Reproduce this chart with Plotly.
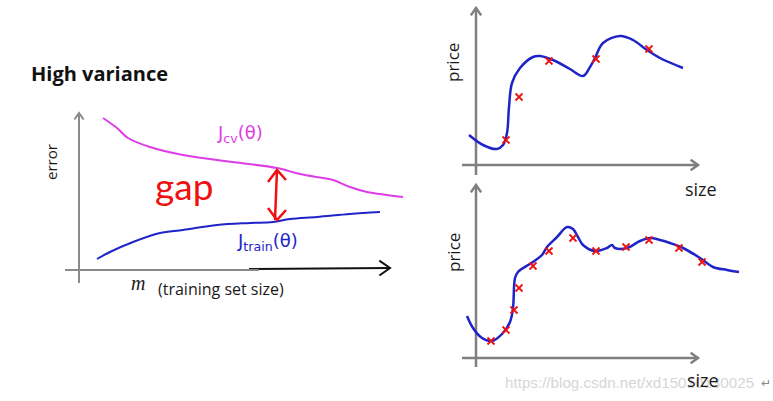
import math
import plotly.graph_objects as go

W, H = 773, 401

# ---------------- data ----------------
# Left: learning curve, high variance (m = training set size, error)
m_cv = [24, 38, 49, 71, 104, 154, 198, 221, 244, 254, 271, 288, 308, 324]
err_cv = [152, 142, 132, 123, 115, 108, 102, 96, 92, 90, 83, 78, 75, 73]
m_train = [18, 31, 54, 81, 104, 138, 171, 194, 211, 238, 271, 301]
err_train = [11, 18, 28, 37, 40, 45, 47, 48, 51, 53, 56, 58]
gap_m = 198
gap_err = [50, 100]

# Top right: overfit curve with few samples
size_top_curve = [-7, 7, 21, 27, 31, 33, 36, 44, 57, 64, 77, 94, 107, 114, 119, 127, 144, 157, 171, 184, 207]
price_top_curve = [30, 20, 16, 20, 32, 58, 82, 97, 108, 109, 105, 96, 89, 98, 107, 122, 129, 125, 115, 107, 97]
size_top_pts = [30, 43, 73, 120, 173]
price_top_pts = [25, 68, 104, 106, 116]

# Bottom right: overfit curve with more samples
size_bot_curve = [-9, -3, 6, 16, 26, 34, 37, 39, 42, 57, 66, 71, 81, 91, 97, 102, 107, 119, 131, 136, 139,
                  151, 164, 174, 184, 194, 207, 224, 237, 251, 263]
price_bot_curve = [42, 30, 20, 17, 24, 36, 50, 80, 86, 96, 103, 111, 121, 131, 129, 121, 113, 107, 110, 113, 110,
                   110, 117, 120, 118, 115, 110, 100, 91, 88, 86]
size_bot_pts = [15, 30, 38, 43, 57, 73, 97, 120, 150, 173, 203, 226]
price_bot_pts = [17, 28, 48, 70, 92, 107, 120, 107, 111, 118, 110, 96]

# ---------------- styles ----------------
MAGENTA = "#dd3ee6"
BLUE = "#1f24c8"
RED = "#ee1111"
GRAY = "#7f7f7f"
SANS = "Open Sans, Noto Sans, sans-serif"

fig = go.Figure()


def panel_axes(n, px0, px1, py0, py1, ox, oy):
    """Axis n spans the pixel box; 1 data unit = 1 px, origin at pixel (ox, oy)."""
    sx = "" if n == 1 else str(n)
    common = dict(visible=False, showgrid=False, zeroline=False, fixedrange=True)
    fig.update_layout(**{
        "xaxis" + sx: dict(domain=[px0 / W, px1 / W], range=[px0 - ox, px1 - ox],
                           anchor="y" + sx, **common),
        "yaxis" + sx: dict(domain=[1 - py1 / H, 1 - py0 / H], range=[oy - py1, oy - py0],
                           anchor="x" + sx, **common),
    })
    return "x" + sx, "y" + sx


def arrow_axis(xr, yr, x0, y0, x1, y1, color, width=2, head=8):
    fig.add_shape(type="line", xref=xr, yref=yr, x0=x0, y0=y0, x1=x1, y1=y1,
                  line=dict(color=color, width=width), layer="below")
    dx, dy = x1 - x0, y1 - y0
    L = math.hypot(dx, dy)
    ux, uy = dx / L, dy / L
    pts = []
    for s in (1, -1):
        a = math.radians(35) * s
        rx = ux * math.cos(a) - uy * math.sin(a)
        ry = ux * math.sin(a) + uy * math.cos(a)
        pts.append((x1 - head * rx, y1 - head * ry))
    path = f"M {pts[0][0]},{pts[0][1]} L {x1},{y1} L {pts[1][0]},{pts[1][1]}"
    fig.add_shape(type="path", xref=xr, yref=yr, path=path,
                  line=dict(color=color, width=width), layer="below")


# ---------------- left panel ----------------
xl, yl = panel_axes(1, 40, 420, 100, 300, 79, 270)
fig.add_trace(go.Scatter(x=m_cv, y=err_cv, mode="lines", line=dict(color=MAGENTA, width=2, shape="spline"),
                         xaxis=xl, yaxis=yl, hoverinfo="skip"))
fig.add_trace(go.Scatter(x=m_train, y=err_train, mode="lines", line=dict(color=BLUE, width=2, shape="spline"),
                         xaxis=xl, yaxis=yl, hoverinfo="skip"))
arrow_axis(xl, yl, 0, -13, 0, 157, "#8a8a8a", width=2, head=8)
fig.add_shape(type="line", xref=xl, yref=yl, x0=-14, y0=0, x1=180, y1=0,
              line=dict(color="#8a8a8a", width=2))
arrow_axis(xl, yl, 170, 1, 311, 2, "#111111", width=2, head=13)
# gap double arrow
fig.add_shape(type="line", xref=xl, yref=yl, x0=gap_m - 2, y0=gap_err[0], x1=gap_m, y1=gap_err[1],
              line=dict(color=RED, width=2.5))
for tip, d in ((gap_err[1], 1), (gap_err[0], -1)):
    fig.add_shape(type="path", xref=xl, yref=yl,
                  path=f"M {gap_m - 9},{tip - d * 12} L {gap_m},{tip} L {gap_m + 9},{tip - d * 10}",
                  line=dict(color=RED, width=2.5))

# ---------------- right top ----------------
xt, yt = panel_axes(2, 440, 773, 0, 200, 476, 165)
arrow_axis(xt, yt, 0, -10, 0, 157, GRAY, width=2.5, head=9)
arrow_axis(xt, yt, -14, 0, 222, 0, GRAY, width=2.5, head=9)
fig.add_trace(go.Scatter(x=size_top_curve, y=price_top_curve, mode="lines",
                         line=dict(color=BLUE, width=2.5, shape="spline"), xaxis=xt, yaxis=yt, hoverinfo="skip"))
fig.add_trace(go.Scatter(x=size_top_pts, y=price_top_pts, mode="markers",
                         marker=dict(symbol="x-thin", size=7, line=dict(color=RED, width=1.8)),
                         xaxis=xt, yaxis=yt, hoverinfo="skip"))

# ---------------- right bottom ----------------
xb, yb = panel_axes(3, 440, 773, 180, 401, 476, 358)
arrow_axis(xb, yb, 0, -9, 0, 173, GRAY, width=2.5, head=9)
arrow_axis(xb, yb, -14, 0, 222, 0, GRAY, width=2.5, head=9)
fig.add_trace(go.Scatter(x=size_bot_curve, y=price_bot_curve, mode="lines",
                         line=dict(color=BLUE, width=2.5, shape="spline"), xaxis=xb, yaxis=yb, hoverinfo="skip"))
fig.add_trace(go.Scatter(x=size_bot_pts, y=price_bot_pts, mode="markers",
                         marker=dict(symbol="x-thin", size=7, line=dict(color=RED, width=1.8)),
                         xaxis=xb, yaxis=yb, hoverinfo="skip"))

# ---------------- text ----------------
def txt(text, x, y, size, color="#1a1a1a", family=SANS, angle=0, xanchor="center", yanchor="middle"):
    fig.add_annotation(text=text, x=x / W, y=1 - y / H, xref="paper", yref="paper", showarrow=False,
                       font=dict(size=size, color=color, family=family), textangle=angle,
                       xanchor=xanchor, yanchor=yanchor)

# watermark first (drawn beneath)
txt("https://blog.csdn.net/xd15010130025", 503, 382, 15.2, color="#d6d6d6",
    family="Liberation Sans, Arial, sans-serif", xanchor="left")
txt("↵", 766, 383, 12, color="#888888", family="DejaVu Sans")

txt("<b>High variance</b>", 29, 73, 20, color="#111111", xanchor="left")
txt("error", 51, 162, 15, angle=-90)
txt("<i>m</i>", 138, 283, 20, family="Liberation Serif, serif")
txt("(training set size)", 221, 289, 16)
txt("J<sub>cv</sub>(θ)", 240, 134, 18, color=MAGENTA, family="DejaVu Sans")
txt("J<sub>train</sub>(θ)", 267, 242, 18, color=BLUE, family="DejaVu Sans")
txt("gap", 184, 185, 37, color=RED, family="Lato, DejaVu Sans")

txt("price", 453, 63, 17, angle=-90)
txt("size", 701, 189, 18)
txt("price", 453, 253, 17, angle=-90)
txt("size", 703, 380, 18)

fig.update_layout(width=W, height=H, autosize=False, margin=dict(l=0, r=0, t=0, b=0),
                  paper_bgcolor="white", plot_bgcolor="rgba(0,0,0,0)", showlegend=False)

fig.write_html("out.html", config={"displayModeBar": False},
               post_script="document.body.style.margin='0px';")
